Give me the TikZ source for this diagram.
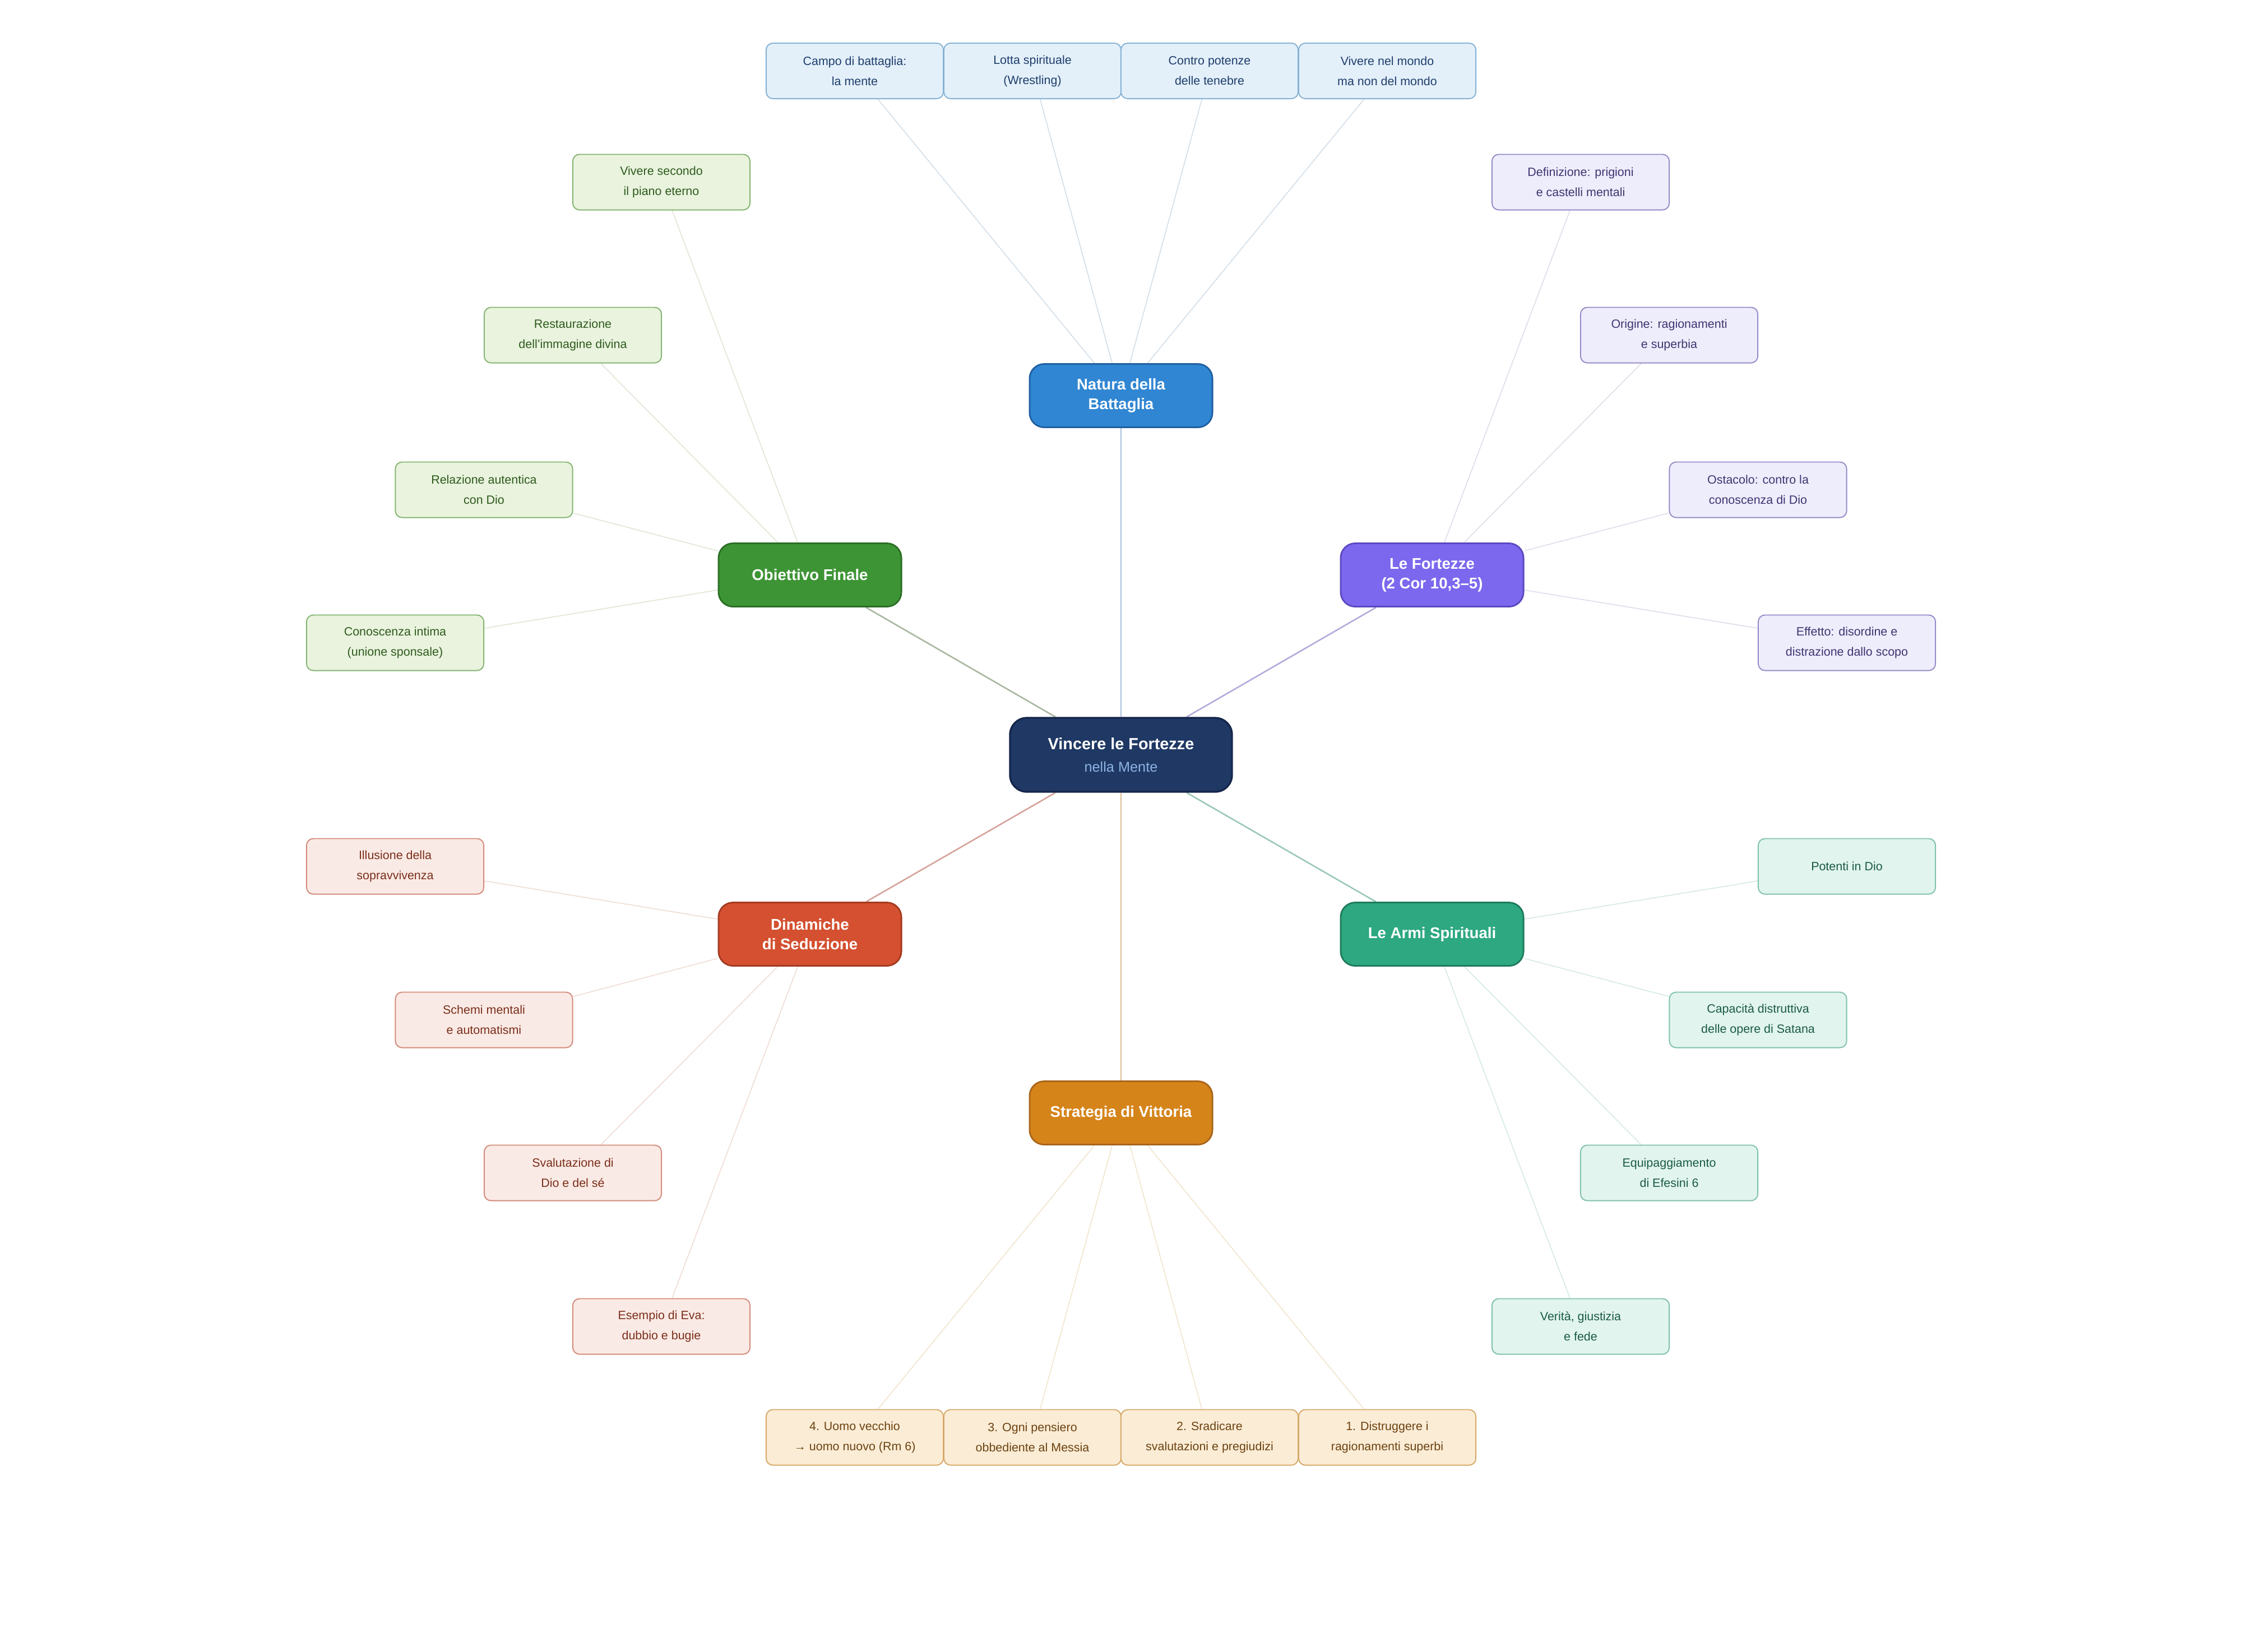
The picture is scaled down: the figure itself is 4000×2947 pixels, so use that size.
\documentclass[tikz,border=0pt]{standalone}
\usepackage{fontspec}
\setmainfont{Liberation Sans}
\usetikzlibrary{backgrounds}
% branch colours
\definecolor{cnavy}{HTML}{1F3864}
\definecolor{cnavyb}{HTML}{14254A}
\definecolor{csub}{HTML}{8DB3E2}
\definecolor{cblue}{HTML}{3086D2}
\definecolor{cblueb}{HTML}{1F5FA0}
\definecolor{cgreen}{HTML}{3D9434}
\definecolor{cgreenb}{HTML}{2B6E25}
\definecolor{cpurple}{HTML}{7B68EE}
\definecolor{cpurpleb}{HTML}{5A48C0}
\definecolor{cred}{HTML}{D45030}
\definecolor{credb}{HTML}{A33A20}
\definecolor{cteal}{HTML}{2DA881}
\definecolor{ctealb}{HTML}{1E7A5C}
\definecolor{corange}{HTML}{D5841A}
\definecolor{corangeb}{HTML}{A8651A}
% leaf colours
\definecolor{lbluef}{HTML}{E3F0FA}\definecolor{lblued}{HTML}{86B2D4}\definecolor{lbluet}{HTML}{1F3D6B}
\definecolor{lgreenf}{HTML}{E9F3DE}\definecolor{lgreend}{HTML}{86B572}\definecolor{lgreent}{HTML}{2E5A1C}
\definecolor{lpurplef}{HTML}{EEEDFC}\definecolor{lpurpled}{HTML}{958CC8}\definecolor{lpurplet}{HTML}{3E3470}
\definecolor{lredf}{HTML}{FAEAE5}\definecolor{lredd}{HTML}{D48C7C}\definecolor{lredt}{HTML}{7A2E1A}
\definecolor{ltealf}{HTML}{E1F4EE}\definecolor{lteald}{HTML}{80C2AA}\definecolor{ltealt}{HTML}{1A5A45}
\definecolor{lorangef}{HTML}{FBECD6}\definecolor{lorangead}{HTML}{D6AA6A}\definecolor{lorangeat}{HTML}{6B4210}
% connector colours
\definecolor{mblue}{HTML}{A8C0DA}\definecolor{mgreen}{HTML}{AAB8A0}\definecolor{mpurple}{HTML}{B2ACDC}
\definecolor{mred}{HTML}{D6A49C}\definecolor{mteal}{HTML}{9CC8B6}\definecolor{morange}{HTML}{DCBC92}
\definecolor{eblue}{HTML}{D2DEE8}\definecolor{egreen}{HTML}{DFE6D4}\definecolor{epurple}{HTML}{DEDCEA}
\definecolor{ered}{HTML}{F0DCD4}\definecolor{eteal}{HTML}{D4EAE2}\definecolor{eorange}{HTML}{F0E4CC}
\begin{document}
\begin{tikzpicture}[x=0.01cm,y=-0.01cm,
  centerbox/.style={draw=cnavyb, fill=cnavy, line width=0.9pt, rounded corners=0.3cm,
    minimum width=3.96cm, minimum height=1.32cm, inner sep=0pt, align=center},
  branch/.style={line width=0.8pt, rounded corners=0.26cm, minimum width=3.26cm,
    minimum height=1.13cm, inner sep=0pt, align=center, text=white,
    font=\bfseries\fontsize{7.85}{10}\selectfont},
  leaf/.style={line width=0.55pt, rounded corners=0.12cm, minimum width=3.16cm,
    minimum height=0.99cm, inner sep=0pt, align=center,
    font=\fontsize{6.1}{10.25}\selectfont},
  lblue/.style={leaf, draw=lblued, fill=lbluef, text=lbluet},
  lgreen/.style={leaf, draw=lgreend, fill=lgreenf, text=lgreent},
  lpurple/.style={leaf, draw=lpurpled, fill=lpurplef, text=lpurplet},
  lred/.style={leaf, draw=lredd, fill=lredf, text=lredt},
  lteal/.style={leaf, draw=lteald, fill=ltealf, text=ltealt},
  lorange/.style={leaf, draw=lorangead, fill=lorangef, text=lorangeat},
  mainline/.style={line width=0.75pt},
  leafline/.style={line width=0.45pt}
]
\useasboundingbox (0,0) rectangle (4000,2947);

% centre
\node[centerbox] (C) at (2000,1347) {{\color{white}\bfseries\fontsize{8.2}{11.1}\selectfont Vincere le Fortezze}\\[-0.5pt]{\color{csub}\fontsize{7.2}{11.1}\selectfont nella Mente}};

% branches
\node[branch, draw=cblueb, fill=cblue] (N) at (2000,706) {Natura della\\Battaglia};
\node[branch, draw=cgreenb, fill=cgreen] (O) at (1445,1026) {Obiettivo Finale};
\node[branch, draw=cpurpleb, fill=cpurple] (F) at (2555,1026) {Le Fortezze\\(2 Cor 10,3–5)};
\node[branch, draw=credb, fill=cred] (D) at (1445,1667) {Dinamiche\\di Seduzione};
\node[branch, draw=ctealb, fill=cteal] (A) at (2555,1667) {Le Armi Spirituali};
\node[branch, draw=corangeb, fill=corange] (S) at (2000,1986) {Strategia di Vittoria};

% Natura leaves
\node[lblue] (N1) at (1525,126.5) {Campo di battaglia:\\la mente};
\node[lblue] (N2) at (1842,126.5) {Lotta spirituale\\(Wrestling)};
\node[lblue] (N3) at (2158,126.5) {Contro potenze\\delle tenebre};
\node[lblue] (N4) at (2475,126.5) {Vivere nel mondo\\ma non del mondo};

% Obiettivo leaves
\node[lgreen] (O1) at (1180,325) {Vivere secondo\\il piano eterno};
\node[lgreen] (O2) at (1022,598) {Restaurazione\\dell'immagine divina};
\node[lgreen] (O3) at (863.5,874) {Relazione autentica\\con Dio};
\node[lgreen] (O4) at (705,1147) {Conoscenza intima\\(unione sponsale)};

% Fortezze leaves
\node[lpurple] (F1) at (2820,325) {Definizione: prigioni\\e castelli mentali};
\node[lpurple] (F2) at (2978,598) {Origine: ragionamenti\\e superbia};
\node[lpurple] (F3) at (3136.5,874) {Ostacolo: contro la\\conoscenza di Dio};
\node[lpurple] (F4) at (3295,1147) {Effetto: disordine e\\distrazione dallo scopo};

% Dinamiche leaves
\node[lred] (D1) at (705,1546) {Illusione della\\sopravvivenza};
\node[lred] (D2) at (863.5,1820) {Schemi mentali\\e automatismi};
\node[lred] (D3) at (1022,2093) {Svalutazione di\\Dio e del sé};
\node[lred] (D4) at (1180,2367) {Esempio di Eva:\\dubbio e bugie};

% Armi leaves
\node[lteal] (A1) at (3295,1546) {Potenti in Dio};
\node[lteal] (A2) at (3136.5,1820) {Capacità distruttiva\\delle opere di Satana};
\node[lteal] (A3) at (2978,2093) {Equipaggiamento\\di Efesini 6};
\node[lteal] (A4) at (2820,2367) {Verità, giustizia\\e fede};

% Strategia leaves
\node[lorange] (S4) at (1525,2565) {4. Uomo vecchio\\→ uomo nuovo (Rm 6)};
\node[lorange] (S3) at (1842,2565) {3. Ogni pensiero\\obbediente al Messia};
\node[lorange] (S2) at (2158,2565) {2. Sradicare\\svalutazioni e pregiudizi};
\node[lorange] (S1) at (2475,2565) {1. Distruggere i\\ragionamenti superbi};

\begin{pgfonlayer}{background}
  \draw[mainline, mblue] (C) -- (N);
  \draw[mainline, mgreen] (C) -- (O);
  \draw[mainline, mpurple] (C) -- (F);
  \draw[mainline, mred] (C) -- (D);
  \draw[mainline, mteal] (C) -- (A);
  \draw[mainline, morange] (C) -- (S);
  \foreach \l in {N1,N2,N3,N4} \draw[leafline, eblue] (N) -- (\l);
  \foreach \l in {O1,O2,O3,O4} \draw[leafline, egreen] (O) -- (\l);
  \foreach \l in {F1,F2,F3,F4} \draw[leafline, epurple] (F) -- (\l);
  \foreach \l in {D1,D2,D3,D4} \draw[leafline, ered] (D) -- (\l);
  \foreach \l in {A1,A2,A3,A4} \draw[leafline, eteal] (A) -- (\l);
  \foreach \l in {S1,S2,S3,S4} \draw[leafline, eorange] (S) -- (\l);
\end{pgfonlayer}
\end{tikzpicture}
\end{document}
